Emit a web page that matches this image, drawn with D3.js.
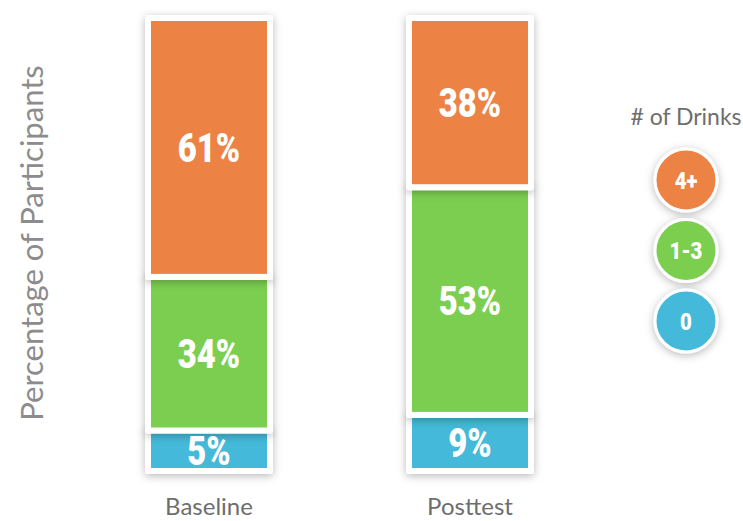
<!DOCTYPE html>
<html>
<head>
<meta charset="utf-8">
<script src="https://cdn.jsdelivr.net/npm/d3@7"></script>
<style>
  body { margin: 0; background: #fff; }
</style>
</head>
<body>
<div id="chart-area"></div>
<script>
// data
var categories = ["Baseline", "Posttest"];
var drinkGroups = ["0", "1-3", "4+"];
var zeroDrinks = [5, 9];
var oneToThree = [34, 53];
var fourPlus = [61, 38];
var legendTitle = "# of Drinks";
var yLabel = "Percentage of Participants";

var width = 743;
var height = 521;

var svg = d3.select("#chart-area")
  .append("svg")
  .attr("width", width)
  .attr("height", height);

var defs = svg.append("defs");
var shadow = defs.append("filter")
  .attr("id", "shadow")
  .attr("x", "-30%").attr("y", "-30%")
  .attr("width", "160%").attr("height", "160%");
shadow.append("feDropShadow")
  .attr("dx", 0).attr("dy", 2)
  .attr("stdDeviation", 4)
  .attr("flood-color", "#000")
  .attr("flood-opacity", 0.28);

var color = d3.scaleOrdinal()
  .domain(drinkGroups)
  .range(["#44b9d9", "#7bce4f", "#ed8245"]);

var boldFont = "Roboto, 'Liberation Sans', sans-serif";
var lightFont = "Lato, 'Noto Sans', sans-serif";

// build stacked rows
var rows = categories.map((c, i) => {
  return { cat: c, "0": zeroDrinks[i], "1-3": oneToThree[i], "4+": fourPlus[i] };
});
var stack = d3.stack().keys(drinkGroups);
var series = stack(rows);

var x = d3.scalePoint()
  .domain(categories)
  .range([209, 470]);

// each segment gets a small fixed minimum height plus its share
var baseY = 468;
var minH = 15;
var sep = 6;
var h = d3.scaleLinear()
  .domain([0, 100])
  .range([0, 390]);

function segBottom(d, i) { return baseY - h(d[0]) - i * (minH + sep); }
function segTop(d, i) { return baseY - h(d[1]) - i * (minH + sep) - minH; }

var barW = 116;
var border = 6;

var g = svg.append("g");
var labels = svg.append("g");

series.forEach((s, si) => {
  var key = s.key;
  var cards = g.append("g").attr("class", "seg-" + si)
    .selectAll("g").data(s).enter().append("g");

  // white card with shadow
  cards.append("rect")
    .attr("x", d => x(d.data.cat) - barW / 2 - border)
    .attr("y", d => segTop(d, si) - border)
    .attr("width", barW + border * 2)
    .attr("height", d => segBottom(d, si) - segTop(d, si) + border * 2)
    .attr("rx", 3)
    .attr("fill", "#fff")
    .attr("filter", "url(#shadow)");

  // colored fill
  cards.append("rect")
    .attr("x", d => x(d.data.cat) - barW / 2)
    .attr("y", d => segTop(d, si))
    .attr("width", barW)
    .attr("height", d => segBottom(d, si) - segTop(d, si))
    .attr("fill", color(key));

  // value labels (on top of every card), squeezed to look condensed
  labels.selectAll(".lbl-" + si).data(s).enter()
    .append("text")
    .attr("class", "lbl-" + si)
    .attr("transform", d => "translate(" + x(d.data.cat) + "," +
      (segTop(d, si) + segBottom(d, si)) / 2 + ") scale(0.82,1)")
    .attr("dy", "0.36em")
    .attr("text-anchor", "middle")
    .attr("font-family", boldFont)
    .attr("font-weight", "900")
    .attr("font-size", "40px")
    .attr("fill", "#fff")
    .text(d => (d[1] - d[0]) + "%");
});

// category labels
svg.selectAll(".cat-label").data(categories).enter()
  .append("text")
  .attr("class", "cat-label")
  .attr("x", d => x(d))
  .attr("y", 515)
  .attr("text-anchor", "middle")
  .attr("font-family", lightFont)
  .attr("font-size", "24px")
  .attr("fill", "#6e6e6e")
  .text(d => d);

// y axis label
svg.append("text")
  .attr("x", -243)
  .attr("y", 43)
  .attr("transform", "rotate(-90)")
  .attr("text-anchor", "middle")
  .attr("font-family", lightFont)
  .attr("font-size", "31px")
  .attr("fill", "#8c8c8c")
  .text(yLabel);

// legend
var legend = svg.append("g").attr("transform", "translate(686, 0)");
legend.append("text")
  .attr("x", 0)
  .attr("y", 125)
  .attr("text-anchor", "middle")
  .attr("font-family", lightFont)
  .attr("font-size", "23px")
  .attr("fill", "#6e6e6e")
  .text(legendTitle);

var legendKeys = drinkGroups.slice().reverse();
var legendY = d3.scalePoint()
  .domain(legendKeys)
  .range([180, 321]);

var items = legend.selectAll(".item").data(legendKeys).enter()
  .append("g")
  .attr("class", "item")
  .attr("transform", d => "translate(0," + legendY(d) + ")");

items.append("circle")
  .attr("r", 31)
  .attr("fill", d => color(d))
  .attr("stroke", "#fff")
  .attr("stroke-width", 3)
  .attr("filter", "url(#shadow)");

items.append("text")
  .attr("transform", "scale(0.85,1)")
  .attr("dy", "0.36em")
  .attr("text-anchor", "middle")
  .attr("font-family", boldFont)
  .attr("font-weight", "900")
  .attr("font-size", "24px")
  .attr("fill", "#fff")
  .text(d => d);
</script>
</body>
</html>
